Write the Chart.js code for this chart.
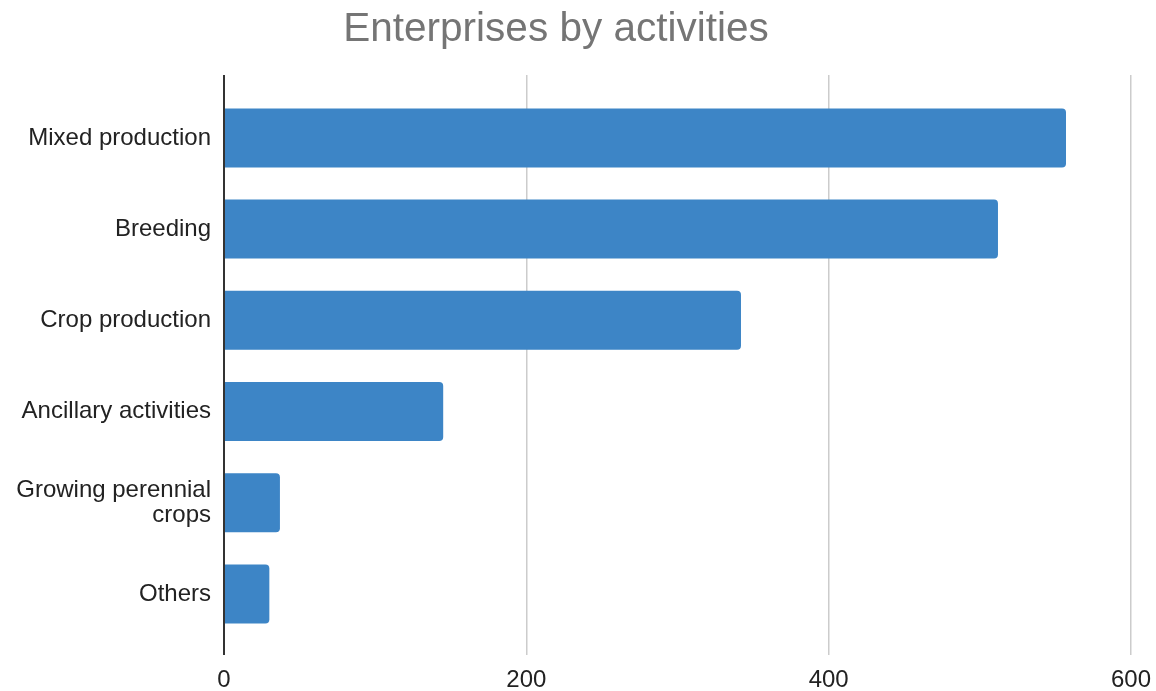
<!DOCTYPE html>
<html>
<head>
<meta charset="utf-8">
<title>Enterprises by activities</title>
<script src="https://cdn.jsdelivr.net/npm/chart.js@4.4.1/dist/chart.umd.min.js"></script>
<style>
  html, body { margin: 0; padding: 0; background: #fff; }
  #wrap { width: 1156px; height: 691px; position: relative; }
</style>
</head>
<body>
<div id="wrap"><canvas id="chart"></canvas></div>
<script>
const TITLE = 'Enterprises by activities';
const CATEGORIES = [
  'Mixed production',
  'Breeding',
  'Crop production',
  'Ancillary activities',
  ['Growing perennial', 'crops'],
  'Others',
];
const COUNTS = [557, 512, 342, 145, 37, 30];
const X_TICKS = [0, 200, 400, 600];

const FONT = '"Liberation Sans", Arial, sans-serif';

// title sits slightly left of the canvas centre, so draw it by hand
const titlePlugin = {
  id: 'sheetTitle',
  afterDraw(chart) {
    const { ctx } = chart;
    ctx.save();
    ctx.font = '40.5px ' + FONT;
    ctx.fillStyle = '#757575';
    ctx.textAlign = 'center';
    ctx.textBaseline = 'alphabetic';
    ctx.fillText(TITLE, 556, 41);
    ctx.restore();
  },
};

const ctx = document.getElementById('chart').getContext('2d');
new Chart(ctx, {
  type: 'bar',
  data: {
    datasets: [{
      data: COUNTS.map((v, i) => ({ x: v, y: i })),
      backgroundColor: '#3d85c6',
      borderWidth: 0,
      borderRadius: 4,
      borderSkipped: 'start',
      categoryPercentage: 1,
      barPercentage: 0.647,
    }],
  },
  plugins: [titlePlugin],
  options: {
    indexAxis: 'y',
    responsive: true,
    maintainAspectRatio: false,
    animation: false,
    layout: { padding: { top: 75, right: 25, left: 0, bottom: 0 } },
    plugins: {
      legend: { display: false },
      tooltip: { enabled: false },
      title: { display: false },
    },
    scales: {
      x: {
        type: 'linear',
        position: 'bottom',
        min: 0,
        max: 600,
        afterBuildTicks: (scale) => { scale.ticks = X_TICKS.map((value) => ({ value })); },
        afterFit: (scale) => {
          scale.height = 36;
          scale.paddingLeft = 0;
          scale.paddingRight = 0;
        },
        border: { display: false },
        grid: {
          drawTicks: false,
          color: (c) => (c.tick && c.tick.value === 0 ? '#333333' : '#cccccc'),
          lineWidth: (c) => (c.tick && c.tick.value === 0 ? 2 : 1.5),
        },
        ticks: {
          padding: 11,
          color: '#222222',
          font: { family: FONT, size: 24 },
        },
      },
      y: {
        type: 'linear',
        offset: false,
        reverse: true,
        min: -0.69,
        max: 5.67,
        afterBuildTicks: (scale) => { scale.ticks = CATEGORIES.map((_, i) => ({ value: i })); },
        afterFit: (scale) => { scale.width = 224; },
        border: { display: false },
        grid: { display: false, offset: false },
        ticks: {
          padding: 5,
          color: '#222222',
          font: { family: FONT, size: 24, lineHeight: 1.05 },
          callback: (v) => CATEGORIES[v],
        },
      },
    },
  },
});
</script>
</body>
</html>
